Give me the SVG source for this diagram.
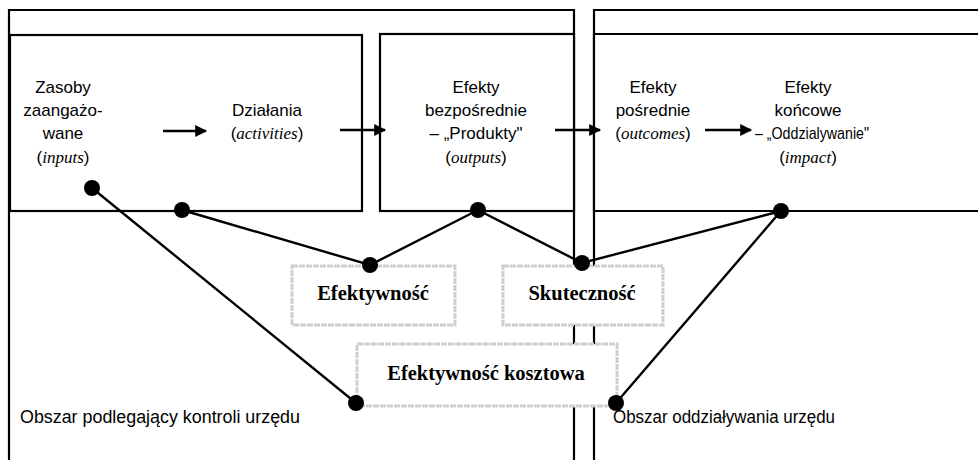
<svg xmlns="http://www.w3.org/2000/svg" width="978" height="460" viewBox="0 0 978 460">
<style>
.frame{fill:none;stroke:#000;stroke-width:2.2}
.box{fill:#fff;stroke:#000;stroke-width:2.2}
.gbox{fill:#fff;stroke:#cfcfcf;stroke-width:3;stroke-dasharray:6 1}
.t{font-family:"Liberation Sans",Arial,sans-serif;font-size:17px;fill:#000;text-anchor:middle}
.i{font-style:italic;font-family:"Liberation Serif",serif}
.b{font-family:"Liberation Serif","Times New Roman",serif;font-weight:bold;font-size:20.5px;text-anchor:middle;fill:#000}
.area{font-family:"Liberation Sans",Arial,sans-serif;font-size:17.5px;fill:#000}
.ln{stroke:#000;stroke-width:2.4;fill:none}
.ar{stroke:#000;stroke-width:2.4;fill:none;marker-end:url(#ah)}
.dot{fill:#000}
</style>
<defs>
<marker id="ah" viewBox="0 0 10 10" refX="9" refY="5" markerWidth="6" markerHeight="5" orient="auto" markerUnits="strokeWidth">
<path d="M0,0 L10,5 L0,10 z" fill="#000"/>
</marker>
</defs>
<rect width="978" height="460" fill="#fff"/>
<g id="frames">
<path class="frame" d="M9,460 V10 H574 V460"/>
<path class="frame" d="M594,460 V10 H978"/>
</g>
<g id="box-inputs-activities">
<rect class="box" x="10" y="35" width="352" height="176"/>
<text class="t" x="63" y="93">Zasoby</text>
<text class="t" x="63" y="116">zaangażo-</text>
<text class="t" x="63" y="139">wane</text>
<text class="t" x="63" y="163">(<tspan class="i">inputs</tspan>)</text>
<text class="t" x="267" y="116">Działania</text>
<text class="t" x="267" y="139">(<tspan class="i">activities</tspan>)</text>
</g>
<g id="box-outputs">
<rect class="box" x="380" y="34" width="194" height="177"/>
<text class="t" x="476" y="93">Efekty</text>
<text class="t" x="476" y="116">bezpośrednie</text>
<text class="t" x="476" y="139">– „Produkty"</text>
<text class="t" x="476" y="163">(<tspan class="i">outputs</tspan>)</text>
</g>
<g id="box-outcomes-impact">
<path class="box" d="M978,34 H594 V211 H978"/>
<text class="t" x="653" y="93">Efekty</text>
<text class="t" x="653" y="116">pośrednie</text>
<text class="t" x="653" y="139">(<tspan class="i">outcomes</tspan>)</text>
<text class="t" x="808" y="93">Efekty</text>
<text class="t" x="808" y="116">końcowe</text>
<text class="t" x="812" y="139" textLength="114" lengthAdjust="spacingAndGlyphs">– „Oddzialywanie"</text>
<text class="t" x="808" y="163">(<tspan class="i">impact</tspan>)</text>
</g>
<g id="connectors">
<line class="ar" x1="163" y1="131" x2="206" y2="131"/>
<line class="ar" x1="340" y1="130" x2="385" y2="130"/>
<line class="ar" x1="555" y1="130" x2="600" y2="130"/>
<line class="ar" x1="705" y1="130" x2="751" y2="130"/>
</g>
<g id="box-efektywnosc">
<rect class="gbox" x="292" y="266" width="163" height="59"/>
<text class="b" x="373" y="300">Efektywność</text>
</g>
<g id="box-skutecznosc">
<rect class="gbox" x="503" y="266" width="160" height="59"/>
<text class="b" x="582" y="300">Skuteczność</text>
</g>
<g id="box-efektywnosc-kosztowa">
<rect class="gbox" x="357" y="344" width="260" height="62"/>
<text class="b" x="486" y="380">Efektywność kosztowa</text>
</g>
<g id="links">
<line class="ln" x1="92" y1="188" x2="356" y2="403"/>
<polyline class="ln" points="182,210 370,265 478,210 582,263 781,211 616,403"/>
<circle class="dot" cx="92" cy="188" r="8"/>
<circle class="dot" cx="182" cy="210" r="8"/>
<circle class="dot" cx="478" cy="210" r="8"/>
<circle class="dot" cx="781" cy="211" r="8"/>
<circle class="dot" cx="370" cy="265" r="8"/>
<circle class="dot" cx="582" cy="263" r="8"/>
<circle class="dot" cx="356" cy="403" r="8"/>
<circle class="dot" cx="616" cy="403" r="8"/>
</g>
<g id="labels">
<text class="area" x="20" y="423" textLength="280" lengthAdjust="spacingAndGlyphs">Obszar podlegający kontroli urzędu</text>
<text class="area" x="613" y="423" textLength="222" lengthAdjust="spacingAndGlyphs">Obszar oddziaływania urzędu</text>
</g>
</svg>
